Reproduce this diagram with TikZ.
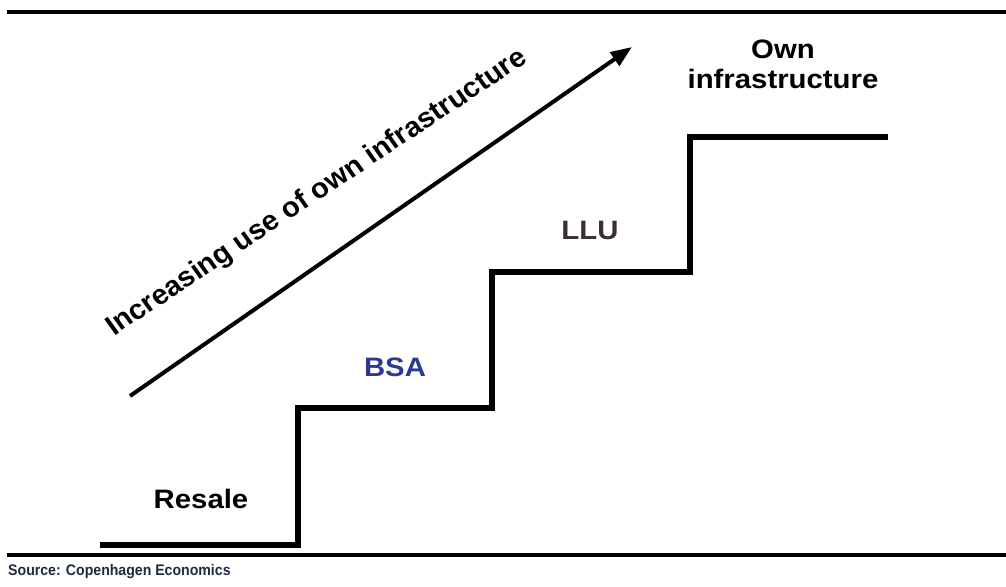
\documentclass[tikz,border=0pt]{standalone}
\usepackage{fontspec}
\setmainfont{Liberation Sans}
\usetikzlibrary{arrows.meta}
\definecolor{bsablue}{HTML}{2B3A8E}
\definecolor{lludark}{HTML}{3A3030}
\definecolor{srcnavy}{HTML}{1E2A40}
\begin{document}
\begin{tikzpicture}[x=0.75pt,y=-0.75pt,
  rule/.style={line width=3.3pt,draw=black},
  stair/.style={line width=3.8pt,draw=black,line join=miter},
  trend/.style={line width=3pt,draw=black,-{Triangle[length=16pt,width=12pt]}},
  lbl/.style={font=\fontsize{20}{22.5}\selectfont\bfseries,inner sep=0pt,xscale=1.1,align=center},
  slant/.style={font=\fontsize{21}{22.5}\selectfont\bfseries,inner sep=0pt,xscale=1.04},
  srclbl/.style={font=\fontsize{11.5}{13}\selectfont\bfseries,text=srcnavy,inner sep=0pt,anchor=west,xscale=0.92}]
\useasboundingbox (0,0) rectangle (1006,586);
% frame rules
\coordinate (t1) at (7,12);
\coordinate (t2) at (1006,12);
\coordinate (b1) at (7,555);
\coordinate (b2) at (1006,555);
\draw[rule] (t1) -- (t2);
\draw[rule] (b1) -- (b2);
% staircase
\coordinate (s0) at (100,545);
\coordinate (s1) at (298,545);
\coordinate (s2) at (298,408);
\coordinate (s3) at (492,408);
\coordinate (s4) at (492,272);
\coordinate (s5) at (690,272);
\coordinate (s6) at (690,137);
\coordinate (s7) at (888,137);
\draw[stair] (s0) -- (s1) -- (s2) -- (s3) -- (s4) -- (s5) -- (s6) -- (s7);
% trend arrow
\coordinate (a0) at (130,396);
\coordinate (a1) at (632,47);
\draw[trend] (a0) -- (a1);
\node[slant,rotate=34.6] (trendtxt) at (317,193) {Increasing use of own infrastructure};
% step labels
\node[lbl] (resale) at (201,499) {Resale};
\node[lbl,text=bsablue] (bsa) at (395,367) {BSA};
\node[lbl,text=lludark] (llu) at (590,230) {LLU};
\node[lbl] (own) at (783,64) {Own\\infrastructure};
% source line
\node[srclbl] (src) at (8,572) {Source: Copenhagen Economics};
\end{tikzpicture}
\end{document}
